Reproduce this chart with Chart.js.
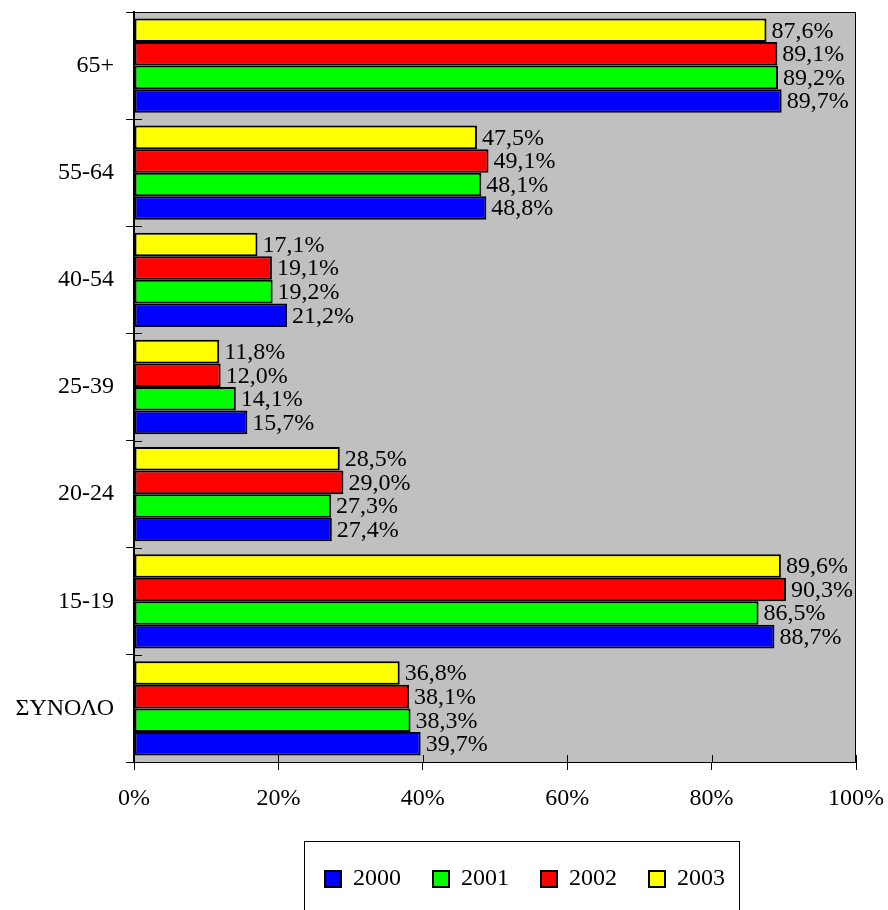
<!DOCTYPE html>
<html>
<head>
<meta charset="utf-8">
<script src="https://cdn.jsdelivr.net/npm/chart.js@4"></script>
<style>
  html, body { margin: 0; padding: 0; background: #fff; }
  #wrap { width: 888px; height: 910px; }
</style>
</head>
<body>
<div id="wrap"><canvas id="ageChart" width="888" height="910"></canvas></div>
<script>
const groups = ['65+', '55-64', '40-54', '25-39', '20-24', '15-19', 'ΣΥΝΟΛΟ'];
const y2000 = [89.7, 48.8, 21.2, 15.7, 27.4, 88.7, 39.7];
const y2001 = [89.2, 48.1, 19.2, 14.1, 27.3, 86.5, 38.3];
const y2002 = [89.1, 49.1, 19.1, 12.0, 29.0, 90.3, 38.1];
const y2003 = [87.6, 47.5, 17.1, 11.8, 28.5, 89.6, 36.8];
const xTicks = [0, 20, 40, 60, 80, 100];

const serif = '"Liberation Serif", "Times New Roman", serif';
Chart.defaults.font.family = serif;
Chart.defaults.color = '#000';

const fmt = v => v.toFixed(1).replace('.', ',') + '%';

// grey plot area, border, cross ticks
const plotFrame = {
    id: 'plotFrame',
    beforeDraw(chart) {
        const a = chart.chartArea, ctx = chart.ctx;
        ctx.save();
        ctx.fillStyle = '#c0c0c0';
        ctx.fillRect(a.left, a.top, a.right - a.left, a.bottom - a.top);
        ctx.restore();
    },
    afterDraw(chart) {
        const a = chart.chartArea, ctx = chart.ctx;
        ctx.save();
        ctx.strokeStyle = '#000';
        ctx.lineWidth = 1;
        ctx.strokeRect(a.left + 0.5, a.top + 0.5, a.right - a.left - 1, a.bottom - a.top);
        ctx.lineWidth = 2;
        ctx.beginPath();
        ctx.moveTo(a.left, a.top);
        ctx.lineTo(a.left, a.bottom);
        ctx.stroke();
        // inner halves of tick marks
        ctx.lineWidth = 1;
        const ys = chart.scales.y;
        for (let i = 0; i <= groups.length; i++) {
            const py = Math.round(ys.getPixelForValue(i - 0.5)) + 0.5;
            ctx.beginPath();
            ctx.moveTo(a.left, py);
            ctx.lineTo(a.left + 8, py);
            ctx.stroke();
        }
        const xs = chart.scales.x;
        xTicks.forEach(t => {
            const px = Math.round(xs.getPixelForValue(t)) + 0.5;
            ctx.beginPath();
            ctx.moveTo(px, a.bottom);
            ctx.lineTo(px, a.bottom - 7);
            ctx.stroke();
        });
        // legend frame
        const lg = chart.legend;
        if (lg && lg.legendHitBoxes.length) {
            const hb = lg.legendHitBoxes;
            const first = hb[0], last = hb[hb.length - 1];
            const cy = first.top + first.height / 2;
            ctx.strokeRect(Math.round(first.left - 21) + 0.5, Math.round(cy - 38) + 0.5,
                Math.round(last.left + last.width + 14 - first.left + 21), 120);
        }
        ctx.restore();
    }
};

// value labels at bar ends
const valueLabels = {
    id: 'valueLabels',
    afterDatasetsDraw(chart) {
        const ctx = chart.ctx;
        ctx.save();
        ctx.font = '24px ' + serif;
        ctx.fillStyle = '#000';
        ctx.textAlign = 'left';
        ctx.textBaseline = 'middle';
        chart.data.datasets.forEach((ds, di) => {
            chart.getDatasetMeta(di).data.forEach((bar, i) => {
                ctx.fillText(fmt(ds.data[i]), bar.x + 5, bar.y + 1);
            });
        });
        ctx.restore();
    }
};

// move legend to sit under the plot, not the whole canvas
const legendShift = {
    id: 'legendShift',
    afterLayout(chart) {
        if (chart.legend) {
            chart.legend.left = 162;
            chart.legend.right = 888;
        }
    }
};

const ctx = document.getElementById('ageChart').getContext('2d');
new Chart(ctx, {
    type: 'bar',
    data: {
        labels: groups,
        datasets: [
            { label: '2003', data: y2003, backgroundColor: '#ffff00' },
            { label: '2002', data: y2002, backgroundColor: '#ff0000' },
            { label: '2001', data: y2001, backgroundColor: '#00ff00' },
            { label: '2000', data: y2000, backgroundColor: '#0000ff' }
        ]
    },
    options: {
        indexAxis: 'y',
        responsive: false,
        animation: false,
        layout: { padding: { left: 0, right: 32, top: 12, bottom: 9 } },
        datasets: {
            bar: {
                borderColor: '#000',
                borderWidth: 2,
                borderSkipped: false,
                categoryPercentage: 0.88,
                barPercentage: 1.0
            }
        },
        scales: {
            x: {
                min: 0,
                max: 100,
                afterFit(scale) {
                    scale.height = 73;
                    scale.paddingLeft = 0;
                    scale.paddingRight = 0;
                },
                afterBuildTicks(scale) { scale.ticks = xTicks.map(v => ({ value: v })); },
                ticks: {
                    font: { size: 24 },
                    padding: 14,
                    callback: v => v + '%'
                },
                grid: { drawOnChartArea: false, tickLength: 8, color: '#000' },
                border: { color: '#000', width: 1 }
            },
            y: {
                afterFit(scale) {
                    scale.width = 134;
                    scale.paddingTop = 0;
                    scale.paddingBottom = 0;
                },
                ticks: { font: { size: 24 }, padding: 12 },
                grid: { drawOnChartArea: false, tickLength: 8, color: '#000', offset: true },
                border: { color: '#000', width: 2 }
            }
        },
        plugins: {
            legend: {
                position: 'bottom',
                reverse: true,
                labels: {
                    font: { size: 24 },
                    boxWidth: 16,
                    boxHeight: 16,
                    padding: 32
                }
            },
            tooltip: { enabled: false }
        }
    },
    plugins: [plotFrame, valueLabels, legendShift]
});
</script>
</body>
</html>
